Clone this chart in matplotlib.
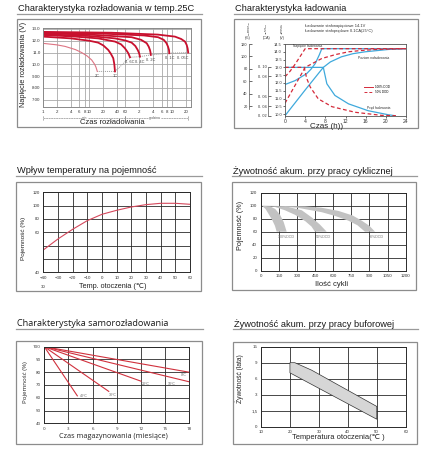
import numpy as np
import matplotlib
matplotlib.use('Agg')
import matplotlib.pyplot as plt
import matplotlib.ticker as mticker
import matplotlib.transforms as mtransforms
from matplotlib.patches import Rectangle
from matplotlib.lines import Line2D

plt.rcParams['font.family'] = ['Liberation Sans', 'DejaVu Sans']

W, H = 425, 450

# --- 1: discharge curves at 25C (time in minutes, voltage)
dis_names = ['2C', '1C', '0. 6C', '0. 4C', '0. 2C', '0. 1C', '0. 05C']
dis_min = [
    [1, 2, 3, 5, 6.8, 9, 11.2, 13, 13.9, 14.8],
    [1, 4, 10, 15.5, 20, 25.5, 29, 32.7, 34.5, 35.6],
    [1, 5, 15.5, 35.6, 48, 58.4, 65, 69, 75],
    [1, 10, 35.6, 60, 81.5, 98, 110, 118, 123],
    [1, 10, 81.5, 130, 172, 190, 202, 208, 211],
    [1, 20, 150, 302, 400, 460, 495, 520, 528],
    [1, 30, 300, 700, 950, 1150, 1250, 1310, 1350],
]
dis_volt = [
    [11.78, 11.65, 11.52, 11.25, 11.0, 10.7, 10.37, 10.0, 9.75, 9.4],
    [12.35, 12.2, 12.0, 11.84, 11.6, 11.22, 10.9, 10.52, 10.0, 9.4],
    [12.49, 12.35, 12.2, 11.93, 11.7, 11.36, 11.1, 10.94, 10.6],
    [12.55, 12.4, 12.2, 12.02, 11.84, 11.55, 11.22, 10.95, 10.65],
    [12.63, 12.52, 12.3, 12.08, 11.79, 11.5, 11.22, 11.0, 10.8],
    [12.69, 12.6, 12.45, 12.3, 12.08, 11.79, 11.5, 11.22, 10.94],
    [12.75, 12.68, 12.52, 12.35, 12.15, 11.93, 11.65, 11.36, 11.0],
]
dis_ticks = [1, 2, 4, 6, 8, 10, 20, 40, 60, 120, 240, 360, 480, 600, 1200]
dis_ticklabels = ['1', '2', '4', '6', '8', '10', '20', '40', '60', '2', '4', '6', '8', '10', '20']
dis_vticks = [7, 8, 9, 10, 11, 12, 13]
dis_vlabels = ['7.00', '8.00', '9.00', '10.0', '11.0', '12.0', '13.0']

# --- 2: charging (hours, position on voltage scale)
chg_hours = [0, 4, 8, 12, 16, 20, 24]
chg_vticks = [10.0, 10.5, 11.0, 11.5, 12.0, 12.5, 13.0, 13.5, 14.0, 14.5]
chg_pticks = [20, 40, 60, 80, 100, 120]
cur_labels = ['0. 02', '0. 04', '0. 06', '0. 08', '0. 10']
cur_tick_volt = [9.9, 10.5, 11.15, 12.43, 13.03]
v100_t = [0, 2, 4.3, 5.2, 6, 6.8, 7.3, 24]
v100_v = [11.9, 12.15, 12.6, 12.9, 13.25, 13.8, 14.2, 14.2]
lvl100_t = [0, 4, 7.6, 9, 11.2, 13.5, 15.9, 20.5, 24]
lvl100_v = [9.9, 11.55, 13.0, 13.35, 13.68, 13.88, 14.0, 14.15, 14.2]
cur100_t = [0, 7.6, 8.3, 9.9, 12.6, 16.5, 20.5, 21.8]
cur100_v = [13.0, 13.0, 11.95, 11.2, 10.66, 10.22, 9.96, 9.9]
v50_t = [0, 1, 2, 3, 4, 24]
v50_v = [12.4, 12.75, 13.2, 13.7, 14.2, 14.2]
lvl50_t = [0, 4, 7.3, 10, 12.6, 15, 17.9, 24]
lvl50_v = [10.7, 13.0, 13.57, 13.82, 14.0, 14.08, 14.15, 14.2]
cur50_t = [0, 3.8, 4.3, 5, 6.6, 9.3, 13.9, 19.2, 22]
cur50_v = [13.0, 13.0, 12.3, 11.74, 10.98, 10.48, 10.12, 9.92, 9.9]

# --- 3: temperature vs capacity
temp_c = [-40, -30, -20, -10, 0, 10, 20, 30, 40, 50, 60]
temp_cap = [33.5, 50, 64.5, 77.5, 87, 93, 98, 101.5, 103.5, 103.5, 102]
temp_yticks = [0, 20, 40, 60, 80, 100, 120]
temp_ylabels = ['40', '', '', '60', '80', '100', '120']

# --- 4: cycle life bands (cycles, capacity %)
cyc_names = ['100%DOD', '50%DOD', '30%DOD']
cyc_outer_x = [[10, 77, 120, 160, 190, 215],
               [10, 229, 340, 422, 490, 546],
               [10, 367, 500, 643, 760, 836, 900, 946]]
cyc_outer_y = [[100, 99, 95, 86, 75, 60],
               [100, 98, 93, 82, 71, 60],
               [100, 99, 97, 92, 85, 77, 69, 60]]
cyc_inner_x = [[10, 40, 63, 95, 118, 132],
               [10, 118, 200, 284, 370, 420, 449],
               [10, 300, 505, 620, 725, 800, 863]]
cyc_inner_y = [[100, 95, 88, 78, 69, 60],
               [100, 98, 93, 86, 76, 68, 60],
               [100, 97, 90, 84, 77, 70, 60]]
cyc_label_x = [215, 518, 960]

# --- 5: self discharge (months, capacity %)
self_names = ['0°C', '10°C', '20°C', '30°C', '40°C']
self_months = [[0, 18], [0, 18], [0, 12], [0, 8], [0, 4.1]]
self_cap = [[100, 80], [100, 72.5], [100, 73], [100, 65], [100, 61.5]]

# --- 6: float life (temperature, years)
buf_temp_up = [20, 21.7, 27.5, 50]
buf_life_up = [9, 9, 7.6, 1.9]
buf_temp_lo = [20, 50]
buf_life_lo = [7.1, 0.7]
life_ticks = [0, 1.5, 3, 6, 9, 15]
life_labels = ['0', '1,5', '3', '6', '9', '15']

red = '#c8102e'
blue = '#3fa9dc'
grid_dark = '#2a2a2a'

fig = plt.figure(figsize=(W / 100, H / 100), dpi=100)


def rect(l, t, r, b):
    return [l / W, 1 - b / H, (r - l) / W, (b - t) / H]


def ftext(x, y, s, **kw):
    kw.setdefault('ha', 'center')
    kw.setdefault('va', 'center')
    return fig.text(x / W, 1 - y / H, s, **kw)


def panel(box, title, ty, uy, fam=None, tsize=6.7):
    l, t, r, b = box
    fig.add_artist(Rectangle((l / W, 1 - b / H), (r - l) / W, (b - t) / H,
                             transform=fig.transFigure, fill=False,
                             ec='#8c8c8c', lw=0.9))
    kw = {'family': fam} if fam else {}
    ftext(l + 1, ty, title, ha='left', fontsize=tsize, color='#1a1a1a', **kw)
    fig.add_artist(Line2D([(l) / W, (r + 1) / W], [1 - uy / H, 1 - uy / H],
                          transform=fig.transFigure, color='#9a9a9a', lw=0.9))


def dark_grid(ax):
    ax.grid(True, color=grid_dark, lw=0.6)
    ax.set_axisbelow(True)
    ax.tick_params(length=0, labelsize=3.2, pad=2.5, colors='#333')
    for s in ax.spines.values():
        s.set_color(grid_dark)
        s.set_linewidth(0.7)


# ---------------- panel 1
panel((17.3, 19, 201, 126.7), 'Charakterystyka rozładowania w temp.25C', 8.3, 14)
ax1 = fig.add_axes(rect(43, 28, 191, 107.3))
ax1.set_xscale('log')
ax1.set_xlim(1, 1550)
ax1.set_ylim(6.36, 13.08)
ax1.set_xticks(dis_ticks, dis_ticklabels)
ax1.xaxis.set_minor_locator(mticker.NullLocator())
ax1.set_yticks(dis_vticks, dis_vlabels)
ax1.grid(True, color='#a8a8a8', lw=0.6)
ax1.set_axisbelow(True)
ax1.tick_params(length=0, labelsize=3.2, pad=1.8, colors='#333')
for s in ax1.spines.values():
    s.set_color('#8a8a8a')
    s.set_linewidth(0.7)
for i, name in enumerate(dis_names):
    col = '#dd7483' if i == 0 else red
    ax1.plot(dis_min[i], dis_volt[i], color=col, lw=0.8 if i == 0 else 1.3)
    dx = -4 if i == len(dis_names) - 1 else 0
    ax1.annotate(name, (dis_min[i][-1], dis_volt[i][-1]), xytext=(dx, -3.6),
                 textcoords='offset points', ha='center', va='center',
                 fontsize=2.8, color='#444')
ends_t = [m[-1] for m in dis_min]
ends_v = [v[-1] for v in dis_volt]
ax1.plot(ends_t, ends_v, color='#9a9a9a', lw=0.7, ls=(0, (1, 1)), zorder=1.5)

trans1 = mtransforms.blended_transform_factory(ax1.transData, ax1.transAxes)
yb = -0.139
for a, b in ((1, 60), (60, 1350)):
    ax1.annotate('', xy=(a, yb), xytext=(b, yb), xycoords=trans1, textcoords=trans1,
                 arrowprops=dict(arrowstyle='|-|', lw=0.4, color='#777',
                                 mutation_scale=1.5, shrinkA=0, shrinkB=0,
                                 linestyle=(0, (3, 1.5))))
ax1.text(8, yb, 'min', transform=trans1, fontsize=2.4, ha='center', va='center',
         color='#555', bbox=dict(fc='white', ec='none', pad=0.3))
ax1.text(258, yb, 'godzina', transform=trans1, fontsize=2.4, ha='center', va='center',
         color='#555', bbox=dict(fc='white', ec='none', pad=0.3))
ftext(112, 122.8, 'Czas rozładowania', fontsize=5.5, color='#222')
ftext(23.3, 64.5, 'Napięcie rozładowania (V)', rotation=90, fontsize=5.3, color='#222')

# ---------------- panel 2
panel((234, 19, 418, 128), 'Charakterystyka ładowania', 8.3, 14.3)
ax2 = fig.add_axes(rect(285, 44, 406, 115.7))
ax2.set_xlim(0, 24)
ax2.set_ylim(9.9, 14.5)
ax2.set_xticks(chg_hours)
ax2.set_yticks(chg_vticks, [f'{v:.1f}' for v in chg_vticks])
ax2.tick_params(axis='y', labelsize=2.8, length=1.5, width=0.5, pad=0.8, colors='#333')
ax2.tick_params(axis='x', labelsize=3.6, length=1.5, width=0.5, pad=0.8, colors='#333')
for s in ax2.spines.values():
    s.set_color('#555')
    s.set_linewidth(0.6)
for t, v in ((v100_t, v100_v), (lvl100_t, lvl100_v), (cur100_t, cur100_v)):
    ax2.plot(t, v, color=blue, lw=0.9)
for t, v in ((v50_t, v50_v), (lvl50_t, lvl50_v), (cur50_t, cur50_v)):
    ax2.plot(t, v, color='#d42a3a', lw=0.9, ls=(0, (3, 2)))
ax2.text(1.5, 14.36, 'Napięcie ładowania', fontsize=2.4, va='center', color='#333')
ax2.text(14.5, 13.57, 'Poziom naładowania', fontsize=2.4, va='center', color='#333')
ax2.text(16.3, 10.4, 'Prąd ładowania', fontsize=2.4, va='center', color='#333')
handles = [Line2D([], [], color='#d42a3a', lw=0.7),
           Line2D([], [], color='#d42a3a', lw=0.7, ls=(0, (3, 2)))]
ax2.legend(handles, ['100% DOD', '50% DOD'], loc='center left',
           bbox_to_anchor=(0.64, 0.365), fontsize=2.2, frameon=False,
           handlelength=3, handletextpad=0.5, labelspacing=0.4, borderpad=0)

ax2c = ax2.twinx()
ax2c.set_ylim(9.9, 14.5)
ax2c.set_yticks(cur_tick_volt, cur_labels)
ax2p = ax2.twinx()
ax2p.set_ylim(5, 120)
ax2p.set_yticks(chg_pticks)
for tw, off in ((ax2c, 17), (ax2p, 36)):
    for k in ('right', 'top', 'bottom'):
        tw.spines[k].set_visible(False)
    tw.spines['left'].set_visible(True)
    tw.spines['left'].set_position(('outward', off * 0.72))
    tw.spines['left'].set_color('#555')
    tw.spines['left'].set_linewidth(0.5)
    tw.yaxis.set_ticks_position('left')
    tw.tick_params(direction='in', length=2.2, width=0.5, labelsize=2.8, pad=1, colors='#333')
ax2c.spines['left'].set_bounds(9.9, 13.03)
ax2p.spines['left'].set_bounds(15, 120)
ftext(249, 28, 'Poziom\nnaładowania', rotation=90, fontsize=1.7, linespacing=1.0, color='#444')
ftext(266, 28, 'Prąd\nładowania', rotation=90, fontsize=1.7, linespacing=1.0, color='#444')
ftext(282, 28, 'Napięcie\nładowania', rotation=90, fontsize=1.7, linespacing=1.0, color='#444')
ftext(248, 37.7, '(%)', fontsize=2.7, color='#333')
ftext(266.5, 37.7, '(CA)', fontsize=2.7, color='#333')
ftext(282, 37.7, '(V)', fontsize=2.7, color='#333')
ftext(305, 25.7, 'Ładowanie stałonapięciowe 14.1V', ha='left', fontsize=2.9, color='#333')
ftext(305, 30.7, 'Ładowanie stałoprądowe 0.1CA(25°C)', ha='left', fontsize=2.9, color='#333')
ftext(327, 126.3, 'Czas (h))', fontsize=5.8, color='#222')

# ---------------- panel 3
panel((15.7, 181.7, 201, 290.7), 'Wpływ temperatury na pojemność', 170.7, 175.7)
ax3 = fig.add_axes(rect(43.3, 192.3, 190, 272.3))
ax3.set_xlim(-40, 60)
ax3.set_ylim(0, 120)
ax3.set_xticks(temp_c)
ax3.set_yticks(temp_yticks, temp_ylabels)
dark_grid(ax3)
ax3.plot(temp_c, temp_cap, color='#d5485c', lw=0.8)
trans3 = mtransforms.blended_transform_factory(ax3.transData, ax3.transAxes)
ax3.text(-40, -0.18, '30', transform=trans3, fontsize=3.2, ha='center', va='center', color='#333')
ftext(113, 286.7, 'Temp. otoczenia (℃)', fontsize=5.2, color='#222')
ftext(24, 238, 'Pojemność (%)', rotation=90, fontsize=4.6, color='#222')

# ---------------- panel 4
panel((232, 181.7, 416, 290), 'Żywotność akum. przy pracy cyklicznej', 170.7, 176)
ax4 = fig.add_axes(rect(260.7, 192.7, 405.7, 270.7))
ax4.set_xlim(0, 1200)
ax4.set_ylim(0, 120)
ax4.set_xticks([0, 150, 300, 450, 600, 750, 900, 1050, 1200])
ax4.set_yticks([0, 20, 40, 60, 80, 100, 120])
dark_grid(ax4)
for i, name in enumerate(cyc_names):
    px = cyc_outer_x[i] + cyc_inner_x[i][::-1]
    py = cyc_outer_y[i] + cyc_inner_y[i][::-1]
    ax4.fill(px, py, color='#c2c2c2', lw=0)
    ax4.text(cyc_label_x[i], 51.5, name, fontsize=2.6, ha='center', va='center', color='#777')
ftext(331.7, 285, 'Ilość cykli', fontsize=5.5, color='#222')
ftext(240, 225, 'Pojemność (%)', rotation=90, fontsize=5.2, color='#222')

# ---------------- panel 5
panel((15.7, 340.7, 201.7, 444), 'Charakterystyka samorozładowania', 324, 329.3,
      fam=['Open Sans', 'DejaVu Sans'], tsize=6.6)
ax5 = fig.add_axes(rect(44.3, 346.7, 189.3, 423.3))
ax5.set_xlim(0, 18)
ax5.set_ylim(40, 100)
ax5.set_xticks([0, 3, 6, 9, 12, 15, 18])
ax5.set_yticks([40, 50, 60, 70, 80, 90, 100])
dark_grid(ax5)
for lab in ax5.get_xticklabels() + ax5.get_yticklabels():
    lab.set_family(['Open Sans', 'DejaVu Sans'])
offsets5 = [(-4, -2), (-13, -1.5), (3.5, -2), (3, -2.5), (4.5, 0)]
for i, name in enumerate(self_names):
    ax5.plot(self_months[i], self_cap[i], color='#d0313d', lw=0.8)
    ax5.annotate(name, (self_months[i][-1], self_cap[i][-1]), xytext=offsets5[i],
                 textcoords='offset points', ha='center', va='center',
                 fontsize=2.5, color='#666')
ftext(113, 436.7, 'Czas magazynowania (miesiące)', fontsize=5.2, color='#222',
      family=['Open Sans', 'DejaVu Sans'])
ftext(25, 381.7, 'Pojemność (%)', rotation=90, fontsize=4.4, color='#222',
      family=['Open Sans', 'DejaVu Sans'])

# ---------------- panel 6
panel((233, 341.7, 416.7, 444), 'Żywotność akum. przy pracy buforowej', 324, 329.3)
ax6 = fig.add_axes(rect(261, 346.7, 405.7, 426.7))
pos = list(range(len(life_ticks)))
ax6.set_yscale('function', functions=(lambda y: np.interp(y, life_ticks, pos),
                                      lambda p: np.interp(p, pos, life_ticks)))
ax6.set_xlim(10, 60)
ax6.set_ylim(0, 15)
ax6.set_xticks([10, 20, 30, 40, 50, 60])
ax6.set_yticks(life_ticks, life_labels)
ax6.yaxis.set_minor_locator(mticker.NullLocator())
dark_grid(ax6)
ax6.fill(buf_temp_up + buf_temp_lo[::-1], buf_life_up + buf_life_lo[::-1],
         fc='#d6d6d6', ec='#333', lw=0.5)
ftext(338, 437.3, 'Temperatura otoczenia(℃ )', fontsize=5.4, color='#222')
ftext(240, 378.3, 'Żywotność (lata)', rotation=90, fontsize=4.8, color='#222')

fig.savefig('out.png', dpi=100)
